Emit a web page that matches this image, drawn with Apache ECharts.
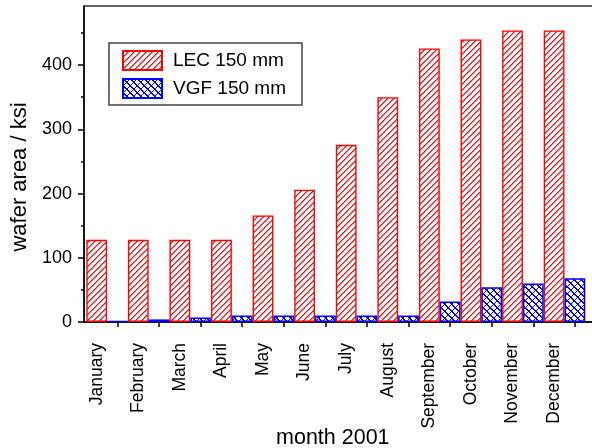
<!DOCTYPE html>
<html><head><meta charset="utf-8">
<script src="https://cdn.jsdelivr.net/npm/echarts@6/dist/echarts.min.js"></script>
<style>html,body{margin:0;padding:0;background:#fff}#c{width:592px;height:448px}</style>
</head><body><div id="c"></div>
<script>
const months = ['January','February','March','April','May','June','July','August','September','October','November','December'];
const lecValues = [128,128,128,128,166,206,276,350,426,440,454,454];
const vgfValues = [1.5,4,7,10,10,10,10,10,32,54,60,68];
const yTicks = [0,100,200,300,400];
const yMinorTicks = [50,150,250,350,450];
const yMax = 492;
const seriesNames = ['LEC 150 mm','VGF 150 mm'];

const FONT = "'Liberation Sans', Arial, sans-serif";

function redHatch(){
  const s = 6, c = document.createElement('canvas');
  c.width = s; c.height = s;
  const g = c.getContext('2d');
  g.fillStyle = 'rgb(255,255,255)'; g.fillRect(0,0,s,s);
  for (let i = 0; i < s; i++) {
    g.fillStyle = 'rgb(255,0,0)';
    g.fillRect(i, s-1-i, 1, 1);
    g.fillStyle = 'rgb(255,110,110)';
    g.fillRect((i+1)%s, s-1-i, 1, 1);
  }
  return c;
}
function blueCross(){
  const s = 7, c = document.createElement('canvas');
  c.width = s; c.height = s;
  const g = c.getContext('2d');
  g.fillStyle = 'rgb(255,255,255)'; g.fillRect(0,0,s,s);
  g.fillStyle = 'rgb(0,0,255)';
  for (let i = 0; i < s; i++) {
    g.fillRect(i, i, 1, 1);
    g.fillRect((i+1)%s, i, 1, 1);
    g.fillRect(i, s-1-i, 1, 1);
    g.fillRect((s-i)%s, s-1-i, 1, 1);
  }
  return c;
}

const chart = echarts.init(document.getElementById('c'), null, {renderer:'canvas'});
const hiddenY = (gi) => ({type:'value', gridIndex:gi, min:0, max:yMax, show:false});
const gridBase = {top:6, height:316, containLabel:false, outerBoundsMode:'none'};

chart.setOption({
  animation:false,
  backgroundColor:'#fff',
  textStyle:{fontFamily:FONT},
  legend:{
    orient:'vertical', left:109, top:43,
    padding:[7,16,6,13], itemGap:7,
    itemWidth:39, itemHeight:19,
    borderColor:'#444', borderWidth:1.5,
    icon:'rect',
    textStyle:{fontSize:19, color:'#000', fontFamily:FONT, padding:[0,0,0,6]},
    data:seriesNames
  },
  grid:[
    Object.assign({}, gridBase, {left:84, width:540, show:true, borderColor:'#333', borderWidth:1.5}),
    Object.assign({}, gridBase, {left:86.3, width:499}),
    Object.assign({}, gridBase, {left:75.9, width:499}),
    Object.assign({}, gridBase, {left:96.7, width:499})
  ],
  xAxis:[
    {type:'value', gridIndex:0, min:0, max:1,
     axisLine:{show:true, lineStyle:{color:'#000', width:1.5}},
     axisTick:{show:false}, axisLabel:{show:false}, splitLine:{show:false}},
    {type:'category', gridIndex:1, data:months, boundaryGap:true,
     axisLine:{show:false}, axisTick:{show:false}, axisLabel:{show:false},
     name:'month 2001', nameLocation:'middle', nameGap:105,
     nameTextStyle:{fontSize:21.5, color:'#000', fontFamily:FONT, padding:[0,6,0,0]}},
    {type:'category', gridIndex:2, data:months, boundaryGap:true,
     axisLine:{show:false}, axisTick:{show:false},
     axisLabel:{show:true, interval:0, rotate:90, margin:21, fontSize:17.5, color:'#000', fontFamily:FONT}},
    {type:'category', gridIndex:3, data:months, boundaryGap:true,
     axisLine:{show:false},
     axisTick:{show:true, interval:0, alignWithLabel:true, length:5, lineStyle:{color:'#000', width:1.5}},
     axisLabel:{show:false}}
  ],
  yAxis:[
    {type:'value', gridIndex:0, position:'left', min:0, max:yMax,
     axisLine:{show:true, lineStyle:{color:'#000', width:1.5}},
     axisTick:{show:true, length:6, customValues:yTicks, lineStyle:{color:'#000', width:1.5}},
     axisLabel:{show:true, customValues:yTicks, fontSize:18, margin:12, color:'#000', fontFamily:FONT},
     splitLine:{show:false},
     name:'wafer area / ksi', nameLocation:'middle', nameGap:51,
     nameTextStyle:{fontSize:22, color:'#000', fontFamily:FONT, padding:[0,26,0,0]}},
    {type:'value', gridIndex:0, position:'left', min:0, max:yMax,
     axisLine:{show:false},
     axisTick:{show:true, length:3, customValues:yMinorTicks, lineStyle:{color:'#000', width:1.5}},
     axisLabel:{show:false}, splitLine:{show:false}},
    hiddenY(1), hiddenY(2), hiddenY(3)
  ],
  series:[
    {name:seriesNames[0], type:'bar', xAxisIndex:1, yAxisIndex:2, data:lecValues,
     barGap:'0%', barCategoryGap:'0%',
     itemStyle:{color:{image:redHatch(), repeat:'repeat'}, borderColor:'#ff0000', borderWidth:1.4}},
    {name:seriesNames[1], type:'bar', xAxisIndex:1, yAxisIndex:2, data:vgfValues,
     barGap:'0%', barCategoryGap:'0%',
     itemStyle:{color:{image:blueCross(), repeat:'repeat'}, borderColor:'#0000ff', borderWidth:1.5}}
  ]
});
</script>
</body></html>
